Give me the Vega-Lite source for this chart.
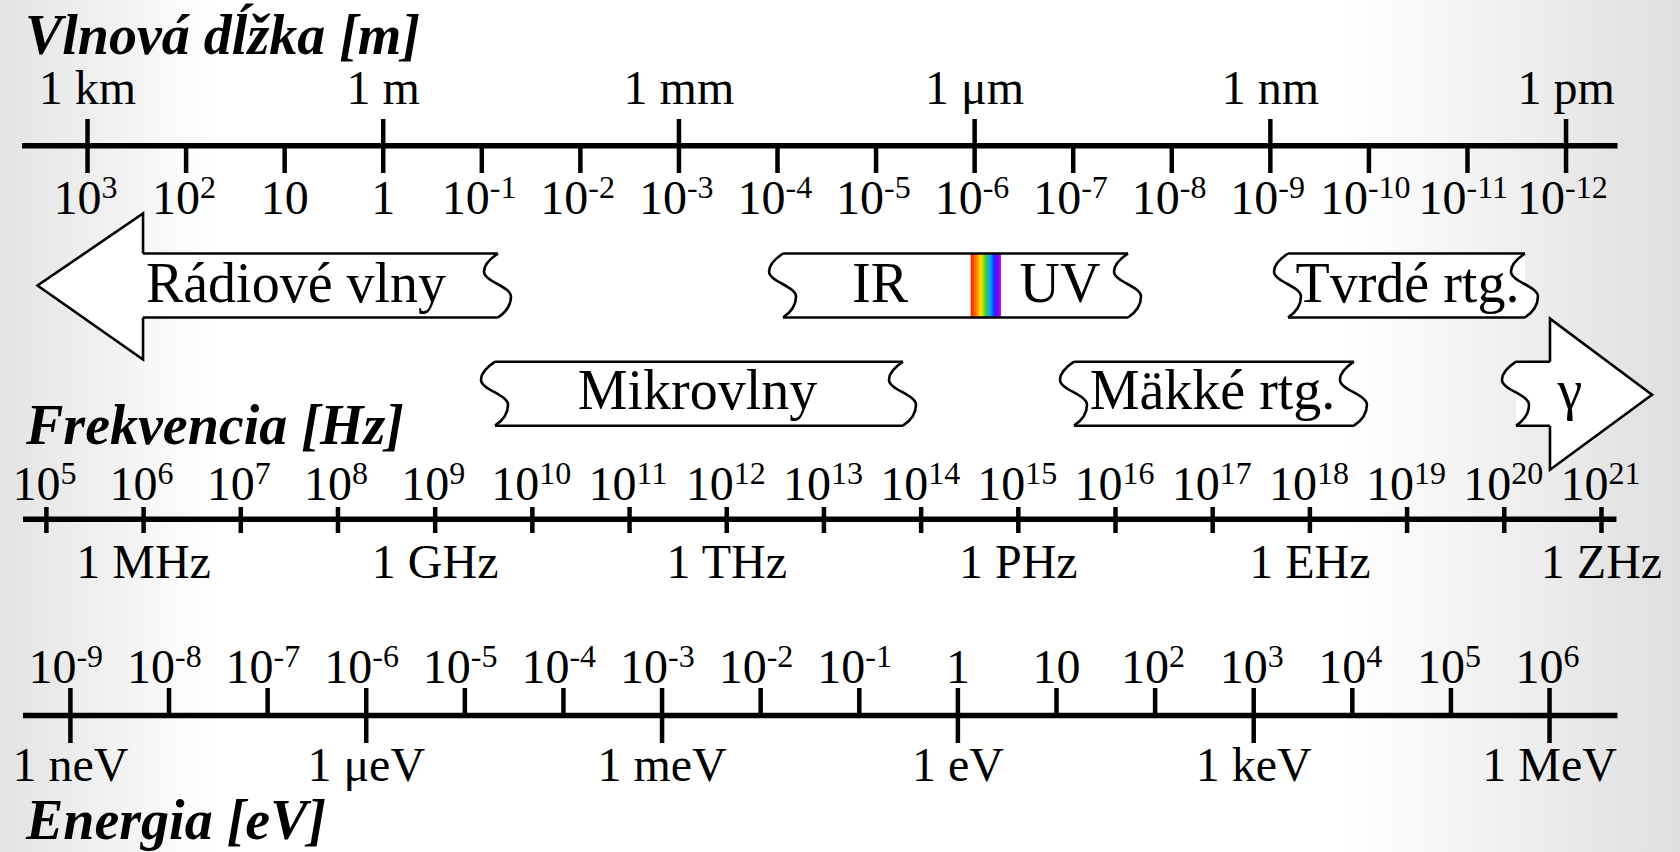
{
  "$schema": "https://vega.github.io/schema/vega-lite/v6.json",
  "width": 1680,
  "height": 852,
  "autosize": {"type": "fit", "contains": "padding"},
  "padding": 0,
  "background": "white",
  "config": {
    "view": {"stroke": null, "fill": {"gradient": "linear", "x1": 0, "y1": 0, "x2": 1, "y2": 0, "stops": [{"offset": 0, "color": "#e3e3e3"}, {"offset": 0.13, "color": "#ffffff"}, {"offset": 0.8, "color": "#ffffff"}, {"offset": 1, "color": "#dfdfdf"}]}},
    "mark": {"color": "black"},
    "text": {"baseline": "alphabetic", "font": "Liberation Serif", "fontSize": 48},
    "axis": {"disable": true}
  },
  "datasets": {
    "wl": [
      {"k": 3, "base": "10", "exp": "3", "unit": "1 km"},
      {"k": 2, "base": "10", "exp": "2", "unit": ""},
      {"k": 1, "base": "10", "exp": "", "unit": ""},
      {"k": 0, "base": "1", "exp": "", "unit": "1 m"},
      {"k": -1, "base": "10", "exp": "-1", "unit": ""},
      {"k": -2, "base": "10", "exp": "-2", "unit": ""},
      {"k": -3, "base": "10", "exp": "-3", "unit": "1 mm"},
      {"k": -4, "base": "10", "exp": "-4", "unit": ""},
      {"k": -5, "base": "10", "exp": "-5", "unit": ""},
      {"k": -6, "base": "10", "exp": "-6", "unit": "1 μm"},
      {"k": -7, "base": "10", "exp": "-7", "unit": ""},
      {"k": -8, "base": "10", "exp": "-8", "unit": ""},
      {"k": -9, "base": "10", "exp": "-9", "unit": "1 nm"},
      {"k": -10, "base": "10", "exp": "-10", "unit": ""},
      {"k": -11, "base": "10", "exp": "-11", "unit": ""},
      {"k": -12, "base": "10", "exp": "-12", "unit": "1 pm"}
    ],
    "freq": [
      {"k": 5, "base": "10", "exp": "5", "unit": ""},
      {"k": 6, "base": "10", "exp": "6", "unit": "1 MHz"},
      {"k": 7, "base": "10", "exp": "7", "unit": ""},
      {"k": 8, "base": "10", "exp": "8", "unit": ""},
      {"k": 9, "base": "10", "exp": "9", "unit": "1 GHz"},
      {"k": 10, "base": "10", "exp": "10", "unit": ""},
      {"k": 11, "base": "10", "exp": "11", "unit": ""},
      {"k": 12, "base": "10", "exp": "12", "unit": "1 THz"},
      {"k": 13, "base": "10", "exp": "13", "unit": ""},
      {"k": 14, "base": "10", "exp": "14", "unit": ""},
      {"k": 15, "base": "10", "exp": "15", "unit": "1 PHz"},
      {"k": 16, "base": "10", "exp": "16", "unit": ""},
      {"k": 17, "base": "10", "exp": "17", "unit": ""},
      {"k": 18, "base": "10", "exp": "18", "unit": "1 EHz"},
      {"k": 19, "base": "10", "exp": "19", "unit": ""},
      {"k": 20, "base": "10", "exp": "20", "unit": ""},
      {"k": 21, "base": "10", "exp": "21", "unit": "1 ZHz"}
    ],
    "energy": [
      {"k": -9, "base": "10", "exp": "-9", "unit": "1 neV"},
      {"k": -8, "base": "10", "exp": "-8", "unit": ""},
      {"k": -7, "base": "10", "exp": "-7", "unit": ""},
      {"k": -6, "base": "10", "exp": "-6", "unit": "1 μeV"},
      {"k": -5, "base": "10", "exp": "-5", "unit": ""},
      {"k": -4, "base": "10", "exp": "-4", "unit": ""},
      {"k": -3, "base": "10", "exp": "-3", "unit": "1 meV"},
      {"k": -2, "base": "10", "exp": "-2", "unit": ""},
      {"k": -1, "base": "10", "exp": "-1", "unit": ""},
      {"k": 0, "base": "1", "exp": "", "unit": "1 eV"},
      {"k": 1, "base": "10", "exp": "", "unit": ""},
      {"k": 2, "base": "10", "exp": "2", "unit": ""},
      {"k": 3, "base": "10", "exp": "3", "unit": "1 keV"},
      {"k": 4, "base": "10", "exp": "4", "unit": ""},
      {"k": 5, "base": "10", "exp": "5", "unit": ""},
      {"k": 6, "base": "10", "exp": "6", "unit": "1 MeV"}
    ],
    "bands": [
      {"band": "Rádiové vlny", "level": "upper", "from": 2.437, "to": -1.164, "fromEnd": "arrowL", "toEnd": "wave"},
      {"band": "IR–UV", "level": "upper", "from": -4.056, "to": -7.556, "fromEnd": "wave", "toEnd": "wave"},
      {"band": "Tvrdé rtg.", "level": "upper", "from": -9.179, "to": -11.583, "fromEnd": "wave", "toEnd": "wave"},
      {"band": "Mikrovlny", "level": "lower", "from": -1.134, "to": -5.273, "fromEnd": "wave", "toEnd": "wave"},
      {"band": "Mäkké rtg.", "level": "lower", "from": -7.008, "to": -9.848, "fromEnd": "wave", "toEnd": "wave"},
      {"band": "γ", "level": "lower", "from": -11.492, "to": -11.837, "fromEnd": "wave", "toEnd": "arrowR"}
    ],
    "bandLabels": [
      {"label": "Rádiové vlny", "level": "upper", "at": 0.885},
      {"label": "IR", "level": "upper", "at": -5.04},
      {"label": "UV", "level": "upper", "at": -6.866},
      {"label": "Tvrdé rtg.", "level": "upper", "at": -10.391},
      {"label": "Mikrovlny", "level": "lower", "at": -3.188},
      {"label": "Mäkké rtg.", "level": "lower", "at": -8.413},
      {"label": "γ", "level": "lower", "at": -12.04}
    ],
    "visible": [
      {"name": "viditeľné svetlo", "from": -5.96, "to": -6.267}
    ]
  },
  "resolve": {"scale": {"x": "independent"}},
  "layer": [
    {
      "data": {"name": "bands"},
      "transform": [{"filter": "datum.level == 'upper'"}],
      "mark": {"type": "rect", "fill": "white", "strokeWidth": 0},
      "encoding": {
        "x": {"field": "from", "type": "quantitative", "scale": {"domain": [3.888, -13.156]}, "axis": null},
        "x2": {"field": "to"},
        "y": {"datum": 253.5, "type": "quantitative", "scale": {"domain": [0, 852], "reverse": true}, "axis": null},
        "y2": {"datum": 317.5}
      }
    },
    {
      "data": {"name": "bands"},
      "transform": [{"filter": "datum.level == 'lower'"}],
      "mark": {"type": "rect", "fill": "white", "strokeWidth": 0},
      "encoding": {
        "x": {"field": "from", "type": "quantitative", "scale": {"domain": [3.888, -13.156]}, "axis": null},
        "x2": {"field": "to"},
        "y": {"datum": 361.7, "type": "quantitative", "scale": {"domain": [0, 852], "reverse": true}, "axis": null},
        "y2": {"datum": 425.7}
      }
    },
    {
      "data": {"name": "visible"},
      "mark": {"type": "rect", "strokeWidth": 0, "fill": {"gradient": "linear", "x1": 0, "y1": 0, "x2": 1, "y2": 0, "stops": [{"offset": 0, "color": "#ff1a00"}, {"offset": 0.18, "color": "#ff7a00"}, {"offset": 0.34, "color": "#ffe600"}, {"offset": 0.5, "color": "#3ccf2a"}, {"offset": 0.64, "color": "#00a8ff"}, {"offset": 0.78, "color": "#1a2cff"}, {"offset": 0.9, "color": "#7a00ff"}, {"offset": 1, "color": "#d000ff"}]}},
      "encoding": {
        "x": {"field": "from", "type": "quantitative", "scale": {"domain": [3.888, -13.156]}, "axis": null},
        "x2": {"field": "to"},
        "y": {"datum": 253.5, "type": "quantitative", "scale": {"domain": [0, 852], "reverse": true}, "axis": null},
        "y2": {"datum": 317.5}
      }
    },
    {
      "data": {"name": "bands"},
      "transform": [{"filter": "datum.level == 'upper'"}],
      "mark": {"type": "rule", "strokeWidth": 2.6},
      "encoding": {
        "x": {"field": "from", "type": "quantitative", "scale": {"domain": [3.888, -13.156]}, "axis": null},
        "x2": {"field": "to"},
        "y": {"datum": 253.5, "type": "quantitative", "scale": {"domain": [0, 852], "reverse": true}, "axis": null}
      }
    },
    {
      "data": {"name": "bands"},
      "transform": [{"filter": "datum.level == 'upper'"}],
      "mark": {"type": "rule", "strokeWidth": 2.6},
      "encoding": {
        "x": {"field": "from", "type": "quantitative", "scale": {"domain": [3.888, -13.156]}, "axis": null},
        "x2": {"field": "to"},
        "y": {"datum": 317.5, "type": "quantitative", "scale": {"domain": [0, 852], "reverse": true}, "axis": null}
      }
    },
    {
      "data": {"name": "bands"},
      "transform": [{"filter": "datum.level == 'lower'"}],
      "mark": {"type": "rule", "strokeWidth": 2.6},
      "encoding": {
        "x": {"field": "from", "type": "quantitative", "scale": {"domain": [3.888, -13.156]}, "axis": null},
        "x2": {"field": "to"},
        "y": {"datum": 361.7, "type": "quantitative", "scale": {"domain": [0, 852], "reverse": true}, "axis": null}
      }
    },
    {
      "data": {"name": "bands"},
      "transform": [{"filter": "datum.level == 'lower'"}],
      "mark": {"type": "rule", "strokeWidth": 2.6},
      "encoding": {
        "x": {"field": "from", "type": "quantitative", "scale": {"domain": [3.888, -13.156]}, "axis": null},
        "x2": {"field": "to"},
        "y": {"datum": 425.7, "type": "quantitative", "scale": {"domain": [0, 852], "reverse": true}, "axis": null}
      }
    },
    {
      "data": {"name": "bands"},
      "transform": [{"filter": "datum.level == 'upper'"}],
      "mark": {"type": "point", "filled": true, "fill": "white", "stroke": "black", "strokeWidth": 2.6, "size": 4, "opacity": 1},
      "encoding": {
        "x": {"field": "from", "type": "quantitative", "scale": {"domain": [3.888, -13.156]}, "axis": null},
        "y": {"datum": 285.5, "type": "quantitative", "scale": {"domain": [0, 852], "reverse": true}, "axis": null},
        "shape": {"field": "fromEnd", "type": "nominal", "legend": null, "scale": {"domain": ["wave", "arrowL", "arrowR"], "range": ["M0,-32C-6,-28,-14,-22,-14,-14C-14,-4,13,1,13,11C13,21,6,28,0,32", "M0,-32L0,-72L-105.5,0L0,74L0,32", "M0,-32L0,-75L102,1L0,76L0,32"]}}
      }
    },
    {
      "data": {"name": "bands"},
      "transform": [{"filter": "datum.level == 'upper'"}],
      "mark": {"type": "point", "filled": true, "fill": "white", "stroke": "black", "strokeWidth": 2.6, "size": 4, "opacity": 1},
      "encoding": {
        "x": {"field": "to", "type": "quantitative", "scale": {"domain": [3.888, -13.156]}, "axis": null},
        "y": {"datum": 285.5, "type": "quantitative", "scale": {"domain": [0, 852], "reverse": true}, "axis": null},
        "shape": {"field": "toEnd", "type": "nominal", "legend": null, "scale": {"domain": ["wave", "arrowL", "arrowR"], "range": ["M0,-32C-6,-28,-14,-22,-14,-14C-14,-4,13,1,13,11C13,21,6,28,0,32", "M0,-32L0,-72L-105.5,0L0,74L0,32", "M0,-32L0,-75L102,1L0,76L0,32"]}}
      }
    },
    {
      "data": {"name": "bands"},
      "transform": [{"filter": "datum.level == 'lower'"}],
      "mark": {"type": "point", "filled": true, "fill": "white", "stroke": "black", "strokeWidth": 2.6, "size": 4, "opacity": 1},
      "encoding": {
        "x": {"field": "from", "type": "quantitative", "scale": {"domain": [3.888, -13.156]}, "axis": null},
        "y": {"datum": 393.7, "type": "quantitative", "scale": {"domain": [0, 852], "reverse": true}, "axis": null},
        "shape": {"field": "fromEnd", "type": "nominal", "legend": null, "scale": {"domain": ["wave", "arrowL", "arrowR"], "range": ["M0,-32C-6,-28,-14,-22,-14,-14C-14,-4,13,1,13,11C13,21,6,28,0,32", "M0,-32L0,-72L-105.5,0L0,74L0,32", "M0,-32L0,-75L102,1L0,76L0,32"]}}
      }
    },
    {
      "data": {"name": "bands"},
      "transform": [{"filter": "datum.level == 'lower'"}],
      "mark": {"type": "point", "filled": true, "fill": "white", "stroke": "black", "strokeWidth": 2.6, "size": 4, "opacity": 1},
      "encoding": {
        "x": {"field": "to", "type": "quantitative", "scale": {"domain": [3.888, -13.156]}, "axis": null},
        "y": {"datum": 393.7, "type": "quantitative", "scale": {"domain": [0, 852], "reverse": true}, "axis": null},
        "shape": {"field": "toEnd", "type": "nominal", "legend": null, "scale": {"domain": ["wave", "arrowL", "arrowR"], "range": ["M0,-32C-6,-28,-14,-22,-14,-14C-14,-4,13,1,13,11C13,21,6,28,0,32", "M0,-32L0,-72L-105.5,0L0,74L0,32", "M0,-32L0,-75L102,1L0,76L0,32"]}}
      }
    },
    {
      "data": {"name": "bandLabels"},
      "transform": [{"filter": "datum.level == 'upper'"}],
      "mark": {"type": "text", "fontSize": 56, "align": "center"},
      "encoding": {
        "x": {"field": "at", "type": "quantitative", "scale": {"domain": [3.888, -13.156]}, "axis": null},
        "y": {"datum": 302, "type": "quantitative", "scale": {"domain": [0, 852], "reverse": true}, "axis": null},
        "text": {"field": "label"}
      }
    },
    {
      "data": {"name": "bandLabels"},
      "transform": [{"filter": "datum.level == 'lower'"}],
      "mark": {"type": "text", "fontSize": 56, "align": "center"},
      "encoding": {
        "x": {"field": "at", "type": "quantitative", "scale": {"domain": [3.888, -13.156]}, "axis": null},
        "y": {"datum": 409, "type": "quantitative", "scale": {"domain": [0, 852], "reverse": true}, "axis": null},
        "text": {"field": "label"}
      }
    },
    {
      "data": {"values": [{}]},
      "mark": {"type": "rule", "strokeWidth": 5.5},
      "encoding": {
        "x": {"datum": 3.665, "type": "quantitative", "scale": {"domain": [3.888, -13.156]}, "axis": null},
        "x2": {"datum": -12.522},
        "y": {"datum": 145.7, "type": "quantitative", "scale": {"domain": [0, 852], "reverse": true}, "axis": null}
      }
    },
    {
      "data": {"name": "wl"},
      "transform": [{"filter": "datum.unit != ''"}],
      "mark": {"type": "rule", "strokeWidth": 4.5},
      "encoding": {
        "x": {"field": "k", "type": "quantitative", "scale": {"domain": [3.888, -13.156]}, "axis": null},
        "y": {"datum": 119, "type": "quantitative", "scale": {"domain": [0, 852], "reverse": true}, "axis": null},
        "y2": {"datum": 173}
      }
    },
    {
      "data": {"name": "wl"},
      "transform": [{"filter": "datum.unit == ''"}],
      "mark": {"type": "rule", "strokeWidth": 4.5},
      "encoding": {
        "x": {"field": "k", "type": "quantitative", "scale": {"domain": [3.888, -13.156]}, "axis": null},
        "y": {"datum": 146, "type": "quantitative", "scale": {"domain": [0, 852], "reverse": true}, "axis": null},
        "y2": {"datum": 173}
      }
    },
    {
      "data": {"name": "wl"},
      "transform": [{"filter": "datum.unit != ''"}],
      "mark": {"type": "text", "align": "center"},
      "encoding": {
        "x": {"field": "k", "type": "quantitative", "scale": {"domain": [3.888, -13.156]}, "axis": null},
        "y": {"datum": 104, "type": "quantitative", "scale": {"domain": [0, 852], "reverse": true}, "axis": null},
        "text": {"field": "unit"}
      }
    },
    {
      "data": {"name": "wl"},
      "transform": [{"filter": "datum.exp == ''"}],
      "mark": {"type": "text", "align": "center"},
      "encoding": {
        "x": {"field": "k", "type": "quantitative", "scale": {"domain": [3.888, -13.156]}, "axis": null},
        "y": {"datum": 214, "type": "quantitative", "scale": {"domain": [0, 852], "reverse": true}, "axis": null},
        "text": {"field": "base"}
      }
    },
    {
      "data": {"name": "wl"},
      "transform": [{"filter": "length(datum.exp) == 1"}],
      "mark": {"type": "text", "align": "right", "dx": 14},
      "encoding": {
        "x": {"field": "k", "type": "quantitative", "scale": {"domain": [3.888, -13.156]}, "axis": null},
        "y": {"datum": 214, "type": "quantitative", "scale": {"domain": [0, 852], "reverse": true}, "axis": null},
        "text": {"field": "base"}
      }
    },
    {
      "data": {"name": "wl"},
      "transform": [{"filter": "length(datum.exp) == 1"}],
      "mark": {"type": "text", "align": "left", "dx": 14, "fontSize": 32},
      "encoding": {
        "x": {"field": "k", "type": "quantitative", "scale": {"domain": [3.888, -13.156]}, "axis": null},
        "y": {"datum": 198, "type": "quantitative", "scale": {"domain": [0, 852], "reverse": true}, "axis": null},
        "text": {"field": "exp"}
      }
    },
    {
      "data": {"name": "wl"},
      "transform": [{"filter": "length(datum.exp) == 2"}],
      "mark": {"type": "text", "align": "right", "dx": 8},
      "encoding": {
        "x": {"field": "k", "type": "quantitative", "scale": {"domain": [3.888, -13.156]}, "axis": null},
        "y": {"datum": 214, "type": "quantitative", "scale": {"domain": [0, 852], "reverse": true}, "axis": null},
        "text": {"field": "base"}
      }
    },
    {
      "data": {"name": "wl"},
      "transform": [{"filter": "length(datum.exp) == 2"}],
      "mark": {"type": "text", "align": "left", "dx": 8, "fontSize": 32},
      "encoding": {
        "x": {"field": "k", "type": "quantitative", "scale": {"domain": [3.888, -13.156]}, "axis": null},
        "y": {"datum": 198, "type": "quantitative", "scale": {"domain": [0, 852], "reverse": true}, "axis": null},
        "text": {"field": "exp"}
      }
    },
    {
      "data": {"name": "wl"},
      "transform": [{"filter": "length(datum.exp) == 3"}],
      "mark": {"type": "text", "align": "right", "dx": -1},
      "encoding": {
        "x": {"field": "k", "type": "quantitative", "scale": {"domain": [3.888, -13.156]}, "axis": null},
        "y": {"datum": 214, "type": "quantitative", "scale": {"domain": [0, 852], "reverse": true}, "axis": null},
        "text": {"field": "base"}
      }
    },
    {
      "data": {"name": "wl"},
      "transform": [{"filter": "length(datum.exp) == 3"}],
      "mark": {"type": "text", "align": "left", "dx": -1, "fontSize": 32},
      "encoding": {
        "x": {"field": "k", "type": "quantitative", "scale": {"domain": [3.888, -13.156]}, "axis": null},
        "y": {"datum": 198, "type": "quantitative", "scale": {"domain": [0, 852], "reverse": true}, "axis": null},
        "text": {"field": "exp"}
      }
    },
    {
      "data": {"values": [{"title": "Vlnová dĺžka [m]"}]},
      "mark": {"type": "text", "align": "left", "fontSize": 56, "fontStyle": "italic", "fontWeight": "bold"},
      "encoding": {
        "x": {"datum": 3.635, "type": "quantitative", "scale": {"domain": [3.888, -13.156]}, "axis": null},
        "y": {"datum": 54, "type": "quantitative", "scale": {"domain": [0, 852], "reverse": true}, "axis": null},
        "text": {"field": "title"}
      }
    },
    {
      "data": {"values": [{}]},
      "mark": {"type": "rule", "strokeWidth": 5.5},
      "encoding": {
        "x": {"datum": 4.759, "type": "quantitative", "scale": {"domain": [4.5226, 21.808]}, "axis": null},
        "x2": {"datum": 21.154},
        "y": {"datum": 519.3, "type": "quantitative", "scale": {"domain": [0, 852], "reverse": true}, "axis": null}
      }
    },
    {
      "data": {"name": "freq"},
      "mark": {"type": "rule", "strokeWidth": 4.5},
      "encoding": {
        "x": {"field": "k", "type": "quantitative", "scale": {"domain": [4.5226, 21.808]}, "axis": null},
        "y": {"datum": 507, "type": "quantitative", "scale": {"domain": [0, 852], "reverse": true}, "axis": null},
        "y2": {"datum": 533}
      }
    },
    {
      "data": {"name": "freq"},
      "transform": [{"filter": "length(datum.exp) == 1"}],
      "mark": {"type": "text", "align": "right", "dx": 14},
      "encoding": {
        "x": {"field": "k", "type": "quantitative", "scale": {"domain": [4.5226, 21.808]}, "axis": null},
        "y": {"datum": 500, "type": "quantitative", "scale": {"domain": [0, 852], "reverse": true}, "axis": null},
        "text": {"field": "base"}
      }
    },
    {
      "data": {"name": "freq"},
      "transform": [{"filter": "length(datum.exp) == 1"}],
      "mark": {"type": "text", "align": "left", "dx": 14, "fontSize": 32},
      "encoding": {
        "x": {"field": "k", "type": "quantitative", "scale": {"domain": [4.5226, 21.808]}, "axis": null},
        "y": {"datum": 484, "type": "quantitative", "scale": {"domain": [0, 852], "reverse": true}, "axis": null},
        "text": {"field": "exp"}
      }
    },
    {
      "data": {"name": "freq"},
      "transform": [{"filter": "length(datum.exp) == 2"}],
      "mark": {"type": "text", "align": "right", "dx": 7},
      "encoding": {
        "x": {"field": "k", "type": "quantitative", "scale": {"domain": [4.5226, 21.808]}, "axis": null},
        "y": {"datum": 500, "type": "quantitative", "scale": {"domain": [0, 852], "reverse": true}, "axis": null},
        "text": {"field": "base"}
      }
    },
    {
      "data": {"name": "freq"},
      "transform": [{"filter": "length(datum.exp) == 2"}],
      "mark": {"type": "text", "align": "left", "dx": 7, "fontSize": 32},
      "encoding": {
        "x": {"field": "k", "type": "quantitative", "scale": {"domain": [4.5226, 21.808]}, "axis": null},
        "y": {"datum": 484, "type": "quantitative", "scale": {"domain": [0, 852], "reverse": true}, "axis": null},
        "text": {"field": "exp"}
      }
    },
    {
      "data": {"name": "freq"},
      "transform": [{"filter": "datum.unit != ''"}],
      "mark": {"type": "text", "align": "center"},
      "encoding": {
        "x": {"field": "k", "type": "quantitative", "scale": {"domain": [4.5226, 21.808]}, "axis": null},
        "y": {"datum": 578, "type": "quantitative", "scale": {"domain": [0, 852], "reverse": true}, "axis": null},
        "text": {"field": "unit"}
      }
    },
    {
      "data": {"values": [{"title": "Frekvencia [Hz]"}]},
      "mark": {"type": "text", "align": "left", "fontSize": 56, "fontStyle": "italic", "fontWeight": "bold"},
      "encoding": {
        "x": {"datum": 4.79, "type": "quantitative", "scale": {"domain": [4.5226, 21.808]}, "axis": null},
        "y": {"datum": 444, "type": "quantitative", "scale": {"domain": [0, 852], "reverse": true}, "axis": null},
        "text": {"field": "title"}
      }
    },
    {
      "data": {"values": [{}]},
      "mark": {"type": "rule", "strokeWidth": 5.5},
      "encoding": {
        "x": {"datum": -9.481, "type": "quantitative", "scale": {"domain": [-9.714, 7.323]}, "axis": null},
        "x2": {"datum": 6.689},
        "y": {"datum": 715.5, "type": "quantitative", "scale": {"domain": [0, 852], "reverse": true}, "axis": null}
      }
    },
    {
      "data": {"name": "energy"},
      "transform": [{"filter": "datum.unit != ''"}],
      "mark": {"type": "rule", "strokeWidth": 4.5},
      "encoding": {
        "x": {"field": "k", "type": "quantitative", "scale": {"domain": [-9.714, 7.323]}, "axis": null},
        "y": {"datum": 688, "type": "quantitative", "scale": {"domain": [0, 852], "reverse": true}, "axis": null},
        "y2": {"datum": 743}
      }
    },
    {
      "data": {"name": "energy"},
      "transform": [{"filter": "datum.unit == ''"}],
      "mark": {"type": "rule", "strokeWidth": 4.5},
      "encoding": {
        "x": {"field": "k", "type": "quantitative", "scale": {"domain": [-9.714, 7.323]}, "axis": null},
        "y": {"datum": 688, "type": "quantitative", "scale": {"domain": [0, 852], "reverse": true}, "axis": null},
        "y2": {"datum": 715}
      }
    },
    {
      "data": {"name": "energy"},
      "transform": [{"filter": "datum.exp == ''"}],
      "mark": {"type": "text", "align": "center"},
      "encoding": {
        "x": {"field": "k", "type": "quantitative", "scale": {"domain": [-9.714, 7.323]}, "axis": null},
        "y": {"datum": 683, "type": "quantitative", "scale": {"domain": [0, 852], "reverse": true}, "axis": null},
        "text": {"field": "base"}
      }
    },
    {
      "data": {"name": "energy"},
      "transform": [{"filter": "length(datum.exp) == 1"}],
      "mark": {"type": "text", "align": "right", "dx": 14},
      "encoding": {
        "x": {"field": "k", "type": "quantitative", "scale": {"domain": [-9.714, 7.323]}, "axis": null},
        "y": {"datum": 683, "type": "quantitative", "scale": {"domain": [0, 852], "reverse": true}, "axis": null},
        "text": {"field": "base"}
      }
    },
    {
      "data": {"name": "energy"},
      "transform": [{"filter": "length(datum.exp) == 1"}],
      "mark": {"type": "text", "align": "left", "dx": 14, "fontSize": 32},
      "encoding": {
        "x": {"field": "k", "type": "quantitative", "scale": {"domain": [-9.714, 7.323]}, "axis": null},
        "y": {"datum": 667, "type": "quantitative", "scale": {"domain": [0, 852], "reverse": true}, "axis": null},
        "text": {"field": "exp"}
      }
    },
    {
      "data": {"name": "energy"},
      "transform": [{"filter": "length(datum.exp) == 2"}],
      "mark": {"type": "text", "align": "right", "dx": 6},
      "encoding": {
        "x": {"field": "k", "type": "quantitative", "scale": {"domain": [-9.714, 7.323]}, "axis": null},
        "y": {"datum": 683, "type": "quantitative", "scale": {"domain": [0, 852], "reverse": true}, "axis": null},
        "text": {"field": "base"}
      }
    },
    {
      "data": {"name": "energy"},
      "transform": [{"filter": "length(datum.exp) == 2"}],
      "mark": {"type": "text", "align": "left", "dx": 6, "fontSize": 32},
      "encoding": {
        "x": {"field": "k", "type": "quantitative", "scale": {"domain": [-9.714, 7.323]}, "axis": null},
        "y": {"datum": 667, "type": "quantitative", "scale": {"domain": [0, 852], "reverse": true}, "axis": null},
        "text": {"field": "exp"}
      }
    },
    {
      "data": {"name": "energy"},
      "transform": [{"filter": "datum.unit != ''"}],
      "mark": {"type": "text", "align": "center"},
      "encoding": {
        "x": {"field": "k", "type": "quantitative", "scale": {"domain": [-9.714, 7.323]}, "axis": null},
        "y": {"datum": 781, "type": "quantitative", "scale": {"domain": [0, 852], "reverse": true}, "axis": null},
        "text": {"field": "unit"}
      }
    },
    {
      "data": {"values": [{"title": "Energia [eV]"}]},
      "mark": {"type": "text", "align": "left", "fontSize": 56, "fontStyle": "italic", "fontWeight": "bold"},
      "encoding": {
        "x": {"datum": -9.451, "type": "quantitative", "scale": {"domain": [-9.714, 7.323]}, "axis": null},
        "y": {"datum": 839, "type": "quantitative", "scale": {"domain": [0, 852], "reverse": true}, "axis": null},
        "text": {"field": "title"}
      }
    }
  ]
}
